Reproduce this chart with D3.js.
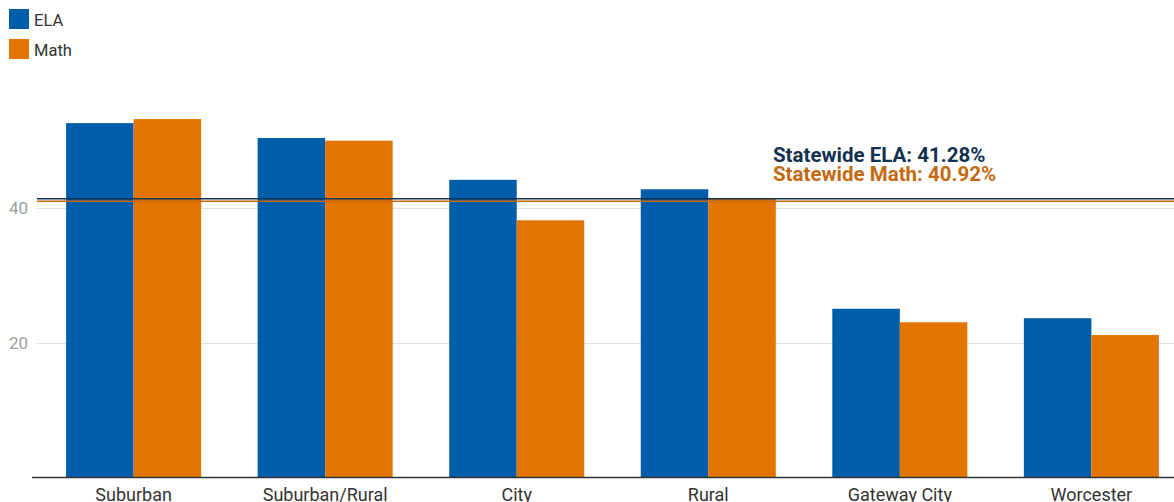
<!DOCTYPE html>
<html><head><meta charset="utf-8">
<script src="https://cdn.jsdelivr.net/npm/d3@7"></script>
<style>
html,body{margin:0;padding:0;background:#fff;}
svg{display:block;font-family:Roboto, "Noto Sans", sans-serif;}
</style></head>
<body>
<svg id="chart" width="1174" height="502"></svg>
<script>
const categories = ["Suburban", "Suburban/Rural", "City", "Rural", "Gateway City", "Worcester"];
const seriesNames = ["ELA", "Math"];
const elaValues = [52.5, 50.3, 44.1, 42.7, 25.0, 23.6];
const mathValues = [53.1, 49.9, 38.1, 41.3, 23.0, 21.1];
const yTicks = [20, 40];
const statewideELA = 41.28;
const statewideMath = 40.92;
const colors = {ELA: "#005DAA", Math: "#E37400"};

const svg = d3.select("#chart");
const W = 1174, H = 502;

const x = d3.scaleBand().domain(categories).range([32, 1193]).paddingInner(0.295).paddingOuter(0.178);
const x1 = d3.scaleBand().domain(seriesNames).range([0, x.bandwidth()]).padding(0);
const y = d3.scaleLinear().domain([0, 60]).range([477.5, 72.5]);

// gridlines
svg.append("g").selectAll("line").data(yTicks).join("line")
  .attr("x1", 37).attr("x2", W)
  .attr("y1", d => Math.round(y(d)) + 0.5).attr("y2", d => Math.round(y(d)) + 0.5)
  .attr("stroke", "#e0e0e0").attr("stroke-width", 1);

// y tick labels
svg.append("g").selectAll("text").data(yTicks).join("text")
  .attr("x", 28).attr("y", d => y(d)).attr("dy", "0.36em")
  .attr("text-anchor", "end").attr("fill", "#9e9e9e").attr("font-size", 17)
  .text(d => d);

// bars
const data = categories.map((c, i) => ({cat: c, ELA: elaValues[i], Math: mathValues[i]}));
const groups = svg.append("g").selectAll("g").data(data).join("g")
  .attr("transform", d => `translate(${x(d.cat)},0)`);
groups.selectAll("rect").data(d => seriesNames.map(s => ({s, v: d[s]}))).join("rect")
  .attr("x", d => x1(d.s)).attr("width", x1.bandwidth())
  .attr("y", d => y(d.v)).attr("height", d => y(0) - y(d.v))
  .attr("fill", d => colors[d.s]);

// statewide lines
svg.append("line").attr("x1", 37).attr("x2", W)
  .attr("y1", y(statewideELA)).attr("y2", y(statewideELA))
  .attr("stroke", "#12314f").attr("stroke-width", 1.5);
svg.append("line").attr("x1", 37).attr("x2", W)
  .attr("y1", y(statewideMath)).attr("y2", y(statewideMath))
  .attr("stroke", "#c4690f").attr("stroke-width", 1.5);

svg.append("text").attr("x", 773).attr("y", 162)
  .attr("font-size", 20.5).attr("font-weight", "bold").attr("fill", "#12314f")
  .text("Statewide ELA: " + statewideELA.toFixed(2) + "%");
svg.append("text").attr("x", 773).attr("y", 181)
  .attr("font-size", 20.5).attr("font-weight", "bold").attr("fill", "#c4690f")
  .text("Statewide Math: " + statewideMath.toFixed(2) + "%");

// x axis
svg.append("line").attr("x1", 32).attr("x2", W)
  .attr("y1", 477.5).attr("y2", 477.5).attr("stroke", "#333").attr("stroke-width", 1.5);
svg.append("g").selectAll("text").data(categories).join("text")
  .attr("x", d => x(d) + x.bandwidth() / 2).attr("y", 501)
  .attr("text-anchor", "middle").attr("font-size", 18).attr("fill", "#333")
  .text(d => d);

// legend
const leg = svg.append("g").selectAll("g").data(seriesNames).join("g")
  .attr("transform", (d, i) => `translate(9,${9 + i * 30})`);
leg.append("rect").attr("width", 20).attr("height", 20).attr("fill", d => colors[d]);
leg.append("text").attr("x", 25).attr("y", 16.5).attr("font-size", 16.5).attr("fill", "#333").text(d => d);
</script>
</body></html>
